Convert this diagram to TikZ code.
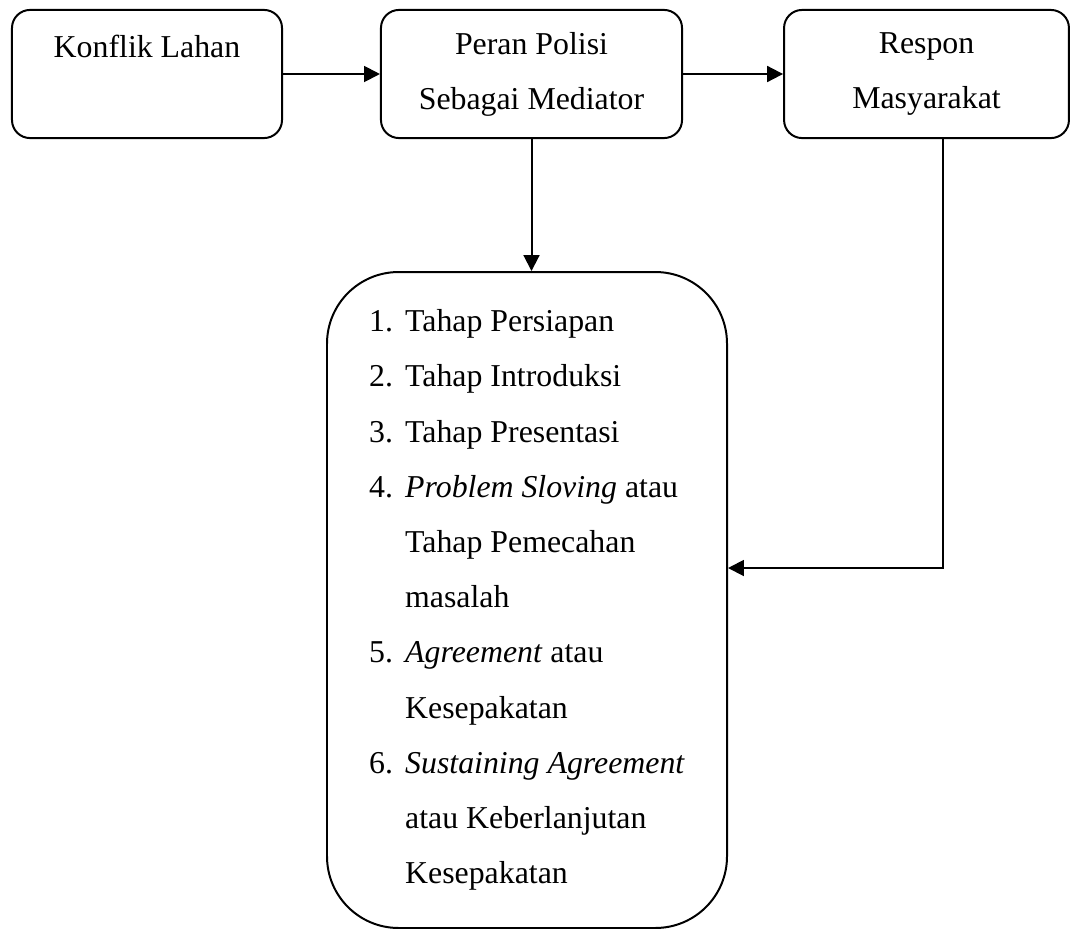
\documentclass[tikz,border=0pt]{standalone}
\usepackage{fontspec}
\setmainfont{Liberation Serif}
\usetikzlibrary{arrows.meta}
\newcommand{\itm}[2]{\makebox[13.6pt][l]{#1}#2}
\newcommand{\cnt}[1]{\hspace*{13.6pt}#1}
\begin{document}
\begin{tikzpicture}[x=0.377pt,y=-0.377pt,
  box/.style={draw,line width=0.75pt,rounded corners=6.8pt,align=center,inner sep=0pt,
    minimum height=48.3pt,font=\fontsize{12}{20.8}\selectfont},
  arr/.style={line width=0.75pt,-{Triangle[length=6pt,width=6pt]}}]
\useasboundingbox (0,0) rectangle (1070,930);
% top row
\node[box,minimum width=101.8pt] (konflik) at (147,74) {Konflik Lahan\\\mbox{}};
\node[box,minimum width=113.5pt] (peran) at (531.5,74) {Peran Polisi\\Sebagai Mediator};
\node[box,minimum width=107.4pt] (respon) at (926.5,74) {Respon\\Masyarakat};
% tahapan
\node[box,align=left,rounded corners=27pt,minimum width=150.8pt,minimum height=247.3pt] (tahap) at (527,600) {%
\itm{1.}{Tahap Persiapan}\\
\itm{2.}{Tahap Introduksi}\\
\itm{3.}{Tahap Presentasi}\\
\itm{4.}{\textit{Problem Sloving} atau}\\
\cnt{Tahap Pemecahan}\\
\cnt{masalah}\\
\itm{5.}{\textit{Agreement} atau}\\
\cnt{Kesepakatan}\\
\itm{6.}{\textit{Sustaining Agreement}}\\
\cnt{atau Keberlanjutan}\\
\cnt{Kesepakatan}};
\coordinate (belok) at (943,568);
\draw[arr] (konflik) -- (peran);
\draw[arr] (peran) -- (respon);
\draw[arr] (peran.south) -- (peran.south |- tahap.north);
\draw[arr] (respon.south -| belok) -- (belok) -- (belok -| tahap.east);
\end{tikzpicture}
\end{document}
